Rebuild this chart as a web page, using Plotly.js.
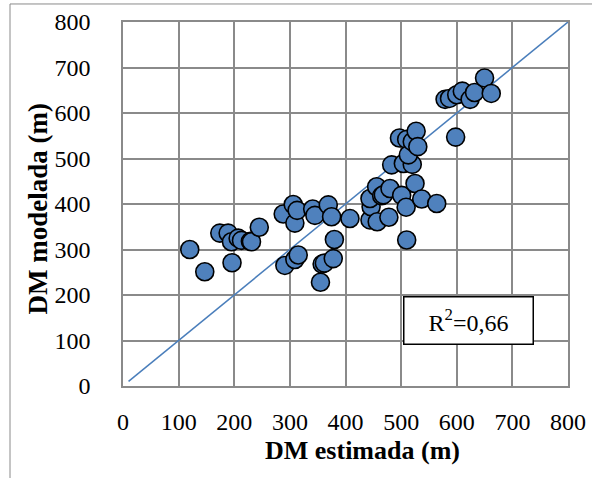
<!DOCTYPE html>
<html>
<head>
<meta charset="utf-8">
<script src="https://cdn.plot.ly/plotly-3.0.1.min.js"></script>
<style>html,body{margin:0;padding:0;background:#fff;}#chart{width:592px;height:478px;}</style>
</head>
<body>
<div id="chart"></div>
<script>
// DM estimada (m)
const estimada = [
  120,147,174,189,196,195,207,213,229,231,245,
  288,291,306,309,309,313,315,341,345,355,358,362,369,375,378,380,408,
  444,446,444,457,456,465,468,478,480,483,501,504,509,510,520,525,537,564,
  497,510,513,520,527,530,
  579,587,598,600,610,624,632,650,662
];
// DM modelada (m)
const modelada = [
  300,251,336,336,271,317,325,320,318,317,349,
  378,265,399,358,278,386,288,389,375,228,268,270,398,372,280,322,368,
  365,394,412,361,438,418,420,371,434,486,419,489,393,321,487,445,411,401,
  545,542,508,537,560,526,
  630,632,547,640,648,630,645,677,643
];
// 1:1 line
const lineX = [10, 805];
const lineY = [10, 805];
const tickVals = [0,100,200,300,400,500,600,700,800];
const xTitle = 'DM estimada (m)';
const yTitle = 'DM modelada (m)';
const r2Label = 'R<sup>2</sup>=0,66';
const grid = '#8a8a8a';

const traces = [
  {x: lineX, y: lineY, mode: 'lines', type: 'scatter', line: {color: '#4a7ebb', width: 1.5},
   hoverinfo: 'skip', showlegend: false},
  {x: estimada, y: modelada, mode: 'markers', type: 'scatter',
   marker: {size: 18, color: '#4f81bd', line: {color: '#000', width: 1.6}}, showlegend: false}
];
const layout = {
  width: 592, height: 478,
  margin: {l: 123, r: 24, t: 22, b: 92},
  paper_bgcolor: '#fff', plot_bgcolor: '#fff',
  xaxis: {range: [0, 800], tickvals: tickVals, gridcolor: grid, gridwidth: 1.5,
    showline: true, linecolor: grid, linewidth: 1.5, mirror: true, zeroline: false,
    ticks: 'outside', ticklen: 13, tickcolor: 'rgba(255,255,255,0)',
    tickfont: {family: 'Liberation Serif', size: 24, color: '#000'}},
  yaxis: {range: [0, 800], tickvals: tickVals, gridcolor: grid, gridwidth: 1.5,
    showline: true, linecolor: grid, linewidth: 1.5, mirror: true, zeroline: false,
    ticks: 'outside', ticklen: 26, tickcolor: 'rgba(255,255,255,0)',
    tickfont: {family: 'Liberation Serif', size: 24, color: '#000'}},
  annotations: [
    {x: 622, y: 143, xref: 'x', yref: 'y', text: r2Label, showarrow: false,
     font: {family: 'Liberation Serif', size: 24, color: '#000'},
     bgcolor: '#fff', bordercolor: '#000', borderwidth: 1.5, width: 126, height: 44},
    {x: 0.539, y: -0.176, xref: 'paper', yref: 'paper', xanchor: 'center', yanchor: 'middle',
     text: '<b>' + xTitle + '</b>', showarrow: false, font: {family: 'Liberation Serif', size: 26, color: '#000'}},
    {x: -0.19, y: 0.486, xref: 'paper', yref: 'paper', xanchor: 'center', yanchor: 'middle',
     text: '<b>' + yTitle + '</b>', showarrow: false, textangle: -90,
     font: {family: 'Liberation Serif', size: 27, color: '#000'}}
  ],
  shapes: [{type: 'rect', xref: 'paper', yref: 'paper', x0: -0.2539, x1: 1.08, y0: -0.29, y1: 1.0495,
    line: {color: '#8a8a8a', width: 1}, layer: 'below'}]
};
Plotly.newPlot('chart', traces, layout, {displayModeBar: false});
</script>
</body>
</html>
